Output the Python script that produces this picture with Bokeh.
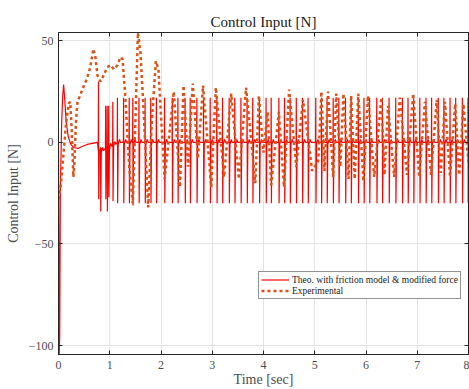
from bokeh.plotting import figure
from bokeh.models import Range1d, FixedTicker, Legend, LegendItem, LinearAxis
from bokeh.embed import file_html
from bokeh.resources import INLINE

# ---------------- data ----------------
x_ticks = [0, 1, 2, 3, 4, 5, 6, 7, 8]
y_ticks = [-100, -50, 0, 50]
y_tick_labels = ["\u2212100", "\u221250", "0", "50"]

# theoretical control input: initial transient
theo_t0 = [0.000, 0.014, 0.024, 0.036, 0.060, 0.080, 0.100, 0.120, 0.150, 0.190, 0.240, 0.300, 0.380, 0.460, 0.560, 0.660, 0.760]
theo_v0 = [0.0, -104.4, -95.0, -25.0, 8.0, 22.0, 28.5, 22.0, 10.0, 3.0, -1.0, -2.5, -3.0, -2.0, -1.0, -0.5, 0.0]

# theoretical control input: switching spikes (time, upper value, lower value, level after)
spike_t = [0.78, 0.82, 0.92, 0.95, 0.98, 1.06, 1.15, 1.27, 1.38, 1.45, 1.57, 1.69, 1.80, 1.91,
           2.07, 2.22, 2.33, 2.47, 2.57, 2.70, 2.83, 2.96, 3.09, 3.20, 3.33, 3.44, 3.56, 3.68,
           3.79, 3.92, 4.05, 4.15, 4.30, 4.41, 4.52, 4.64, 4.76, 4.87, 5.02, 5.13, 5.24, 5.36,
           5.47, 5.60, 5.71, 5.85, 5.96, 6.07, 6.21, 6.32, 6.45, 6.58, 6.71, 6.82, 6.93, 7.05,
           7.17, 7.28, 7.41, 7.52, 7.64, 7.75, 7.88, 7.99]
spike_hi = [30, -4, 18, 18, 18, 20, 22, 22, 22, 22, 22, 22, 22, 22,
            22, 22, 22, 22, 22, 22, 22, 22, 22, 22, 22, 22, 22, 22,
            22, 22, 22, 22, 22, 22, 22, 22, 22, 22, 22, 22, 22, 22,
            22, 22, 22, 22, 22, 22, 22, 22, 22, 22, 22, 22, 22, 22,
            22, 22, 22, 22, 22, 22, 22, 22]
spike_lo = [-28, -34, -28, -34, -27, -29, -30, -30, -30, -31, -30, -30, -30, -30,
            -30, -30, -30, -30, -30, -30, -30, -30, -30, -30, -30, -30, -30, -30,
            -30, -30, -30, -30, -30, -30, -30, -30, -30, -30, -30, -30, -30, -30,
            -30, -30, -30, -30, -30, -30, -30, -30, -30, -30, -30, -30, -30, -30,
            -30, -30, -30, -30, -30, -30, -30, -30]
spike_rest = [-4, -4, -3, -3, -2, -1, 0, 0, 0, 0, 0, 0, 0, 0,
              0, 0, 0, 0, 0, 0, 0, 0, 0, 0, 0, 0, 0, 0,
              0, 0, 0, 0, 0, 0, 0, 0, 0, 0, 0, 0, 0, 0,
              0, 0, 0, 0, 0, 0, 0, 0, 0, 0, 0, 0, 0, 0,
              0, 0, 0, 0, 0, 0, 0, 0]

# experimental control input (turning points)
exp_t = [0.00, 0.05, 0.10, 0.15, 0.20, 0.23, 0.26, 0.29, 0.31, 0.34, 0.37, 0.42, 0.48, 0.55,
         0.62, 0.68, 0.72, 0.76, 0.82, 0.88, 0.95, 1.02, 1.08, 1.15, 1.21, 1.25, 1.30, 1.38,
         1.45, 1.50, 1.55, 1.60, 1.66, 1.75, 1.82, 1.90, 1.95, 2.00, 2.07, 2.25, 2.37, 2.44,
         2.53, 2.62, 2.72, 2.82, 2.98, 3.07, 3.23, 3.37, 3.52, 3.66, 3.84, 3.91, 4.00, 4.08,
         4.15, 4.30, 4.40, 4.50, 4.64, 4.77, 4.95, 5.07, 5.13, 5.19, 5.26, 5.36, 5.42, 5.50,
         5.56, 5.66, 5.71, 5.78, 5.85, 5.95, 6.04, 6.16, 6.30, 6.36, 6.43, 6.55, 6.66, 6.80,
         6.92, 7.04, 7.15, 7.27, 7.38, 7.46, 7.54, 7.64, 7.74, 7.82, 7.90, 8.00]
exp_v = [-28, -20, -5, 10, 19, 20, 5, -17, -10, 10, 20, 23, 27, 31,
         37, 46, 42, 33, 30, 33, 37, 38, 36, 38, 42, 41, 24, -12,
         -30, 10, 54, 44, 16, -32, 10, 40, 36, 13, -18, 25, -22, 28,
         -12, 29, -8, 28, -22, 27, -17, 24, -18, 27, -20, 23, -5, 15,
         -21, 15, -22, 26, -12, 21, -14, -9, 25, -14, 25, -17, 24, -12,
         24, -18, 23, -18, 24, -19, 23, -17, 22, -16, 18, -17, 22, -16,
         24, -17, 20, -16, 21, -15, 20, -17, 19, -16, 19, -10]

# ---------------- build theoretical trace ----------------
theo_t = list(theo_t0)
theo_v = list(theo_v0)
for t, hi, lo, rest in zip(spike_t, spike_hi, spike_lo, spike_rest):
    theo_t += [t - 0.004, t, t + 0.004, t + 0.015, t + 0.040, t + 0.060]
    theo_v += [rest, hi, lo, rest - 1, rest + 1.5, rest]

SERIF = "Liberation Serif"
DARK = "#262626"
GRID = "#E3E3E3"

p = figure(width=469, height=389, output_backend="svg", toolbar_location=None,
           x_range=Range1d(0, 8), y_range=Range1d(-104.4, 54.1),
           min_border_left=58, min_border_right=1, min_border_top=32, min_border_bottom=35,
           background_fill_color="white", border_fill_color="white")

p.title.text = "Control Input [N]"
p.title.align = "center"
p.title.text_font = SERIF
p.title.text_font_size = "15px"
p.title.text_font_style = "normal"
p.title.text_color = "#1a1a1a"
p.title.standoff = 6

p.outline_line_color = DARK
p.outline_line_width = 1

for ax in (p.xaxis[0], p.yaxis[0]):
    ax.major_tick_in = 4
    ax.major_tick_out = 0
    ax.minor_tick_line_color = None
    ax.axis_line_color = DARK
    ax.major_tick_line_color = DARK
    ax.major_label_text_font = SERIF
    ax.major_label_text_font_size = "12px"
    ax.major_label_text_color = "#4d4d4d"
    ax.axis_label_text_font = SERIF
    ax.axis_label_text_font_size = "14px"
    ax.axis_label_text_font_style = "normal"
    ax.axis_label_text_color = "#4d4d4d"

p.xaxis.ticker = FixedTicker(ticks=x_ticks)
p.yaxis.ticker = FixedTicker(ticks=y_ticks)
p.yaxis.major_label_overrides = dict(zip(y_ticks, y_tick_labels))
p.xaxis.axis_label = "Time [sec]"
p.yaxis.axis_label = "Control Input [N]"
p.xaxis.major_label_standoff = 6
p.xaxis.axis_label_standoff = 0
p.yaxis.major_label_standoff = 5
p.yaxis.axis_label_standoff = 5

# box ticks on the top and right edges (no labels)
top = LinearAxis(ticker=FixedTicker(ticks=x_ticks), major_label_text_color=None,
                 major_label_text_font_size="1px", major_label_standoff=0,
                 major_tick_in=4, major_tick_out=0, minor_tick_line_color=None,
                 axis_line_color=DARK, major_tick_line_color=DARK)
right = LinearAxis(ticker=FixedTicker(ticks=y_ticks), major_label_text_color=None,
                   major_label_text_font_size="1px", major_label_standoff=0,
                   major_tick_in=4, major_tick_out=0, minor_tick_line_color=None,
                   axis_line_color=DARK, major_tick_line_color=DARK)
p.add_layout(top, "above")
p.add_layout(right, "right")

p.xgrid.ticker = FixedTicker(ticks=x_ticks)
p.ygrid.ticker = FixedTicker(ticks=y_ticks)
p.grid.grid_line_color = GRID
p.grid.grid_line_width = 1

r_theo = p.line(theo_t, theo_v, line_color="#FF0000", line_width=1.2)
r_exp = p.line(exp_t, exp_v, line_color="#D95319", line_width=2.5,
               line_dash="3 3", line_cap="butt")

legend = Legend(items=[LegendItem(label="Theo. with friction model & modified force", renderers=[r_theo]),
                       LegendItem(label="Experimental", renderers=[r_exp])],
                location=(200, 55), orientation="vertical",
                label_text_font=SERIF, label_text_font_size="9.5px", label_text_color="#1a1a1a",
                label_height=11, glyph_height=11, glyph_width=28, label_standoff=3,
                spacing=0, padding=2, margin=0,
                border_line_color=DARK, border_line_width=1,
                background_fill_color="white", background_fill_alpha=1)
p.add_layout(legend, "center")

open("out.html", "w").write(file_html(p, INLINE))
